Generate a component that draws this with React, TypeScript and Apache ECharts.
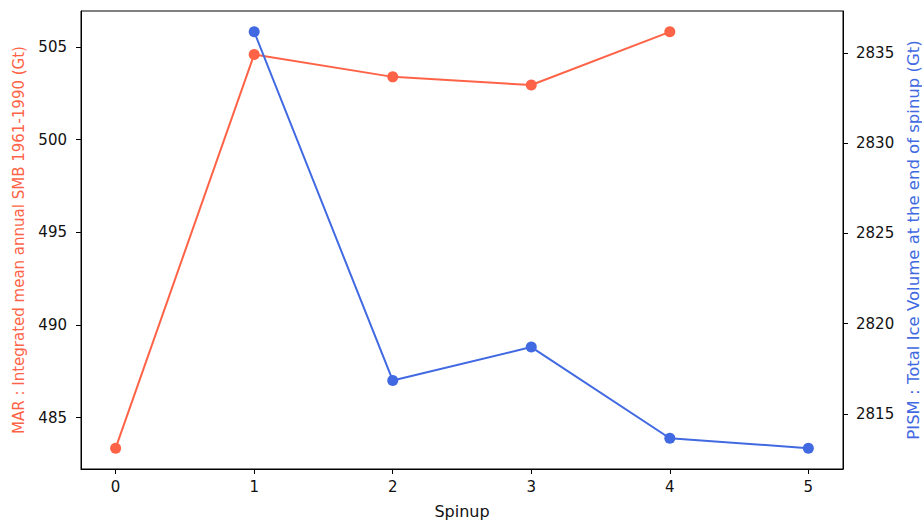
import React, { useEffect, useRef } from "react";
import * as echarts from "echarts";

const SPINUP_TICKS = [0, 1, 2, 3, 4, 5];
const MAR_SPINUPS = [0, 1, 2, 3, 4];
const MAR_VALUES = [483.35, 504.59, 503.38, 502.94, 505.81];
const PISM_SPINUPS = [1, 2, 3, 4, 5];
const PISM_VALUES = [2836.16, 2816.85, 2818.7, 2813.65, 2813.1];
const LEFT_TICKS = [485, 490, 495, 500, 505];
const RIGHT_TICKS = [2815, 2820, 2825, 2830, 2835];

const MAR_COLOR = "#ff6347";
const PISM_COLOR = "#4169e1";
const FONT = "DejaVu Sans";

function padded(vals: number[]) {
  const lo = Math.min(...vals);
  const hi = Math.max(...vals);
  const m = (hi - lo) * 0.05;
  return { min: lo - m, max: hi + m };
}

export default function App() {
  const ref = useRef<HTMLDivElement>(null);
  useEffect(() => {
    if (!ref.current) return;
    const chart = echarts.init(ref.current, null, { renderer: "svg" });
    const xr = padded(SPINUP_TICKS);
    const lr = padded(MAR_VALUES);
    const rr = padded(PISM_VALUES);
    const tickStyle = { color: "#000", width: 1 };
    const tickLabel = { color: "#111", fontFamily: FONT, fontSize: 15 };
    const nameStyle = { color: "#111", fontFamily: FONT };
    const plain = (v: number) => String(Math.round(v));
    chart.setOption({
      animation: false,
      backgroundColor: "#fff",
      grid: {
        left: 81,
        right: 79,
        top: 11,
        bottom: 54,
        containLabel: false,
        outerBoundsMode: "none",
        show: true,
        borderColor: "#000",
        borderWidth: 1,
        backgroundColor: "transparent",
      },
      xAxis: {
        type: "value",
        min: xr.min,
        max: xr.max,
        name: "Spinup",
        nameLocation: "middle",
        nameGap: 34,
        nameTextStyle: { ...nameStyle, fontSize: 16 },
        axisLine: { show: true, onZero: false, lineStyle: tickStyle },
        axisTick: { show: true, length: 5, lineStyle: tickStyle, customValues: SPINUP_TICKS },
        axisLabel: { ...tickLabel, margin: 10, formatter: plain, customValues: SPINUP_TICKS },
        splitLine: { show: false },
      },
      yAxis: [
        {
          type: "value",
          position: "left",
          min: lr.min,
          max: lr.max,
          name: "MAR : Integrated mean annual SMB 1961-1990 (Gt)",
          nameLocation: "middle",
          nameGap: 55,
          nameTextStyle: { ...nameStyle, fontSize: 15, color: MAR_COLOR },
          axisLine: { show: true, onZero: false, lineStyle: tickStyle },
          axisTick: { show: true, length: 5, lineStyle: tickStyle, customValues: LEFT_TICKS },
          axisLabel: { ...tickLabel, margin: 14, formatter: plain, customValues: LEFT_TICKS },
          splitLine: { show: false },
        },
        {
          type: "value",
          position: "right",
          min: rr.min,
          max: rr.max,
          name: "PISM : Total Ice Volume at the end of spinup (Gt)",
          nameLocation: "middle",
          nameGap: 59,
          nameTextStyle: { ...nameStyle, fontSize: 16.5, color: PISM_COLOR },
          axisLine: { show: true, onZero: false, lineStyle: tickStyle },
          axisTick: { show: true, length: 5, lineStyle: tickStyle, customValues: RIGHT_TICKS },
          axisLabel: { ...tickLabel, margin: 13, formatter: plain, customValues: RIGHT_TICKS },
          splitLine: { show: false },
        },
      ],
      series: [
        {
          type: "line",
          yAxisIndex: 0,
          data: MAR_SPINUPS.map((s, i) => [s, MAR_VALUES[i]]),
          symbol: "circle",
          symbolSize: 11,
          showAllSymbol: true,
          lineStyle: { color: MAR_COLOR, width: 2 },
          itemStyle: { color: MAR_COLOR },
        },
        {
          type: "line",
          yAxisIndex: 1,
          data: PISM_SPINUPS.map((s, i) => [s, PISM_VALUES[i]]),
          symbol: "circle",
          symbolSize: 11,
          showAllSymbol: true,
          lineStyle: { color: PISM_COLOR, width: 2 },
          itemStyle: { color: PISM_COLOR },
        },
      ],
    });
    return () => chart.dispose();
  }, []);
  return <div ref={ref} style={{ width: 922, height: 523, position: "absolute", left: 0, top: 0 }} />;
}
